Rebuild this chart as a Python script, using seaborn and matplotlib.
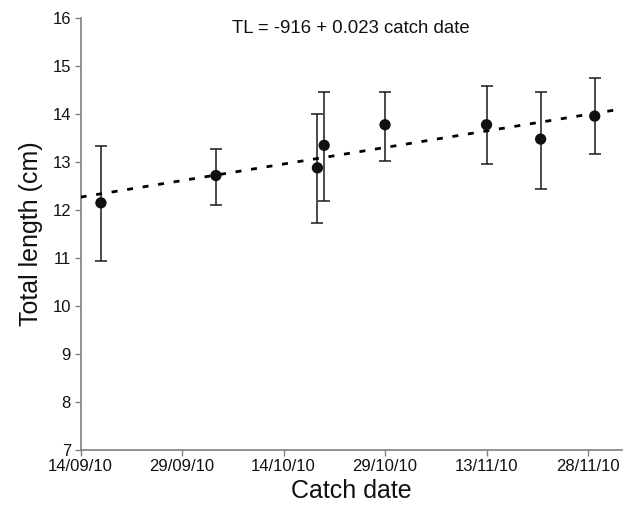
import matplotlib
matplotlib.use("Agg")
import matplotlib.pyplot as plt
import seaborn as sns
import pandas as pd

# Data
catch_dates = ["2010-09-17", "2010-10-04", "2010-10-19", "2010-10-20",
               "2010-10-29", "2010-11-13", "2010-11-21", "2010-11-29"]
mean_tl = [12.15, 12.72, 12.88, 13.35, 13.78, 13.78, 13.48, 13.96]
lower_tl = [10.94, 12.11, 11.72, 12.19, 13.03, 12.97, 12.43, 13.16]
upper_tl = [13.33, 13.28, 14.01, 14.46, 14.46, 14.58, 14.46, 14.76]

fit_dates = ["2010-09-14", "2010-12-03"]
fit_tl = [12.27, 14.11]

tick_dates = ["2010-09-14", "2010-09-29", "2010-10-14",
              "2010-10-29", "2010-11-13", "2010-11-28"]
tick_labels = ["14/09/10", "29/09/10", "14/10/10", "29/10/10", "13/11/10", "28/11/10"]
y_ticks = [7, 8, 9, 10, 11, 12, 13, 14, 15, 16]

equation = "TL = -916 + 0.023 catch date"

sns.set_theme(style="white")
plt.rcParams['font.family'] = ['Liberation Sans', 'DejaVu Sans']
plt.rcParams['lines.scale_dashes'] = False

df = pd.DataFrame({"date": pd.to_datetime(catch_dates), "tl": mean_tl,
                   "lo": lower_tl, "hi": upper_tl})
fit = pd.DataFrame({"date": pd.to_datetime(fit_dates), "tl": fit_tl})

fig = plt.figure(figsize=(6.3, 5.13), dpi=100)
ax = fig.add_axes([0.128, 0.1234, 0.859, 0.8409])

# error bars
ax.errorbar(df["date"], df["tl"],
            yerr=[df["tl"] - df["lo"], df["hi"] - df["tl"]],
            fmt="none", ecolor="#1a1a1a", elinewidth=1.1, capsize=4.2,
            capthick=1.1, zorder=2)

# fitted line
sns.lineplot(data=fit, x="date", y="tl", ax=ax, color="black",
             linewidth=2.0, zorder=3)
ax.lines[-1].set_dashes([4.3, 7.0])

# points
sns.scatterplot(data=df, x="date", y="tl", ax=ax, color="#111111",
                s=66, edgecolor="none", zorder=4)

ax.set_xlim(pd.Timestamp(fit_dates[0]), pd.Timestamp(fit_dates[1]))
ax.set_ylim(7, 16)
ax.set_yticks(y_ticks)
ax.set_xticks(pd.to_datetime(tick_dates))
ax.set_xticklabels(tick_labels)

for s in ["top", "right"]:
    ax.spines[s].set_visible(False)
for s in ["left", "bottom"]:
    ax.spines[s].set_color("#808080")
    ax.spines[s].set_linewidth(1.2)

ax.tick_params(axis="both", which="major", direction="out", length=4,
               width=1.0, color="#808080", labelsize=12, labelcolor="#111111",
               pad=3, bottom=True, left=True)

ax.set_xlabel("Catch date", fontsize=18, color="#111111", labelpad=3)
ax.set_ylabel("Total length (cm)", fontsize=18, color="#111111", labelpad=7)

ax.text(0.5, 0.995, equation, transform=ax.transAxes, ha="center", va="top",
        fontsize=13.4, color="#111111")

fig.savefig("out.png", dpi=100)
